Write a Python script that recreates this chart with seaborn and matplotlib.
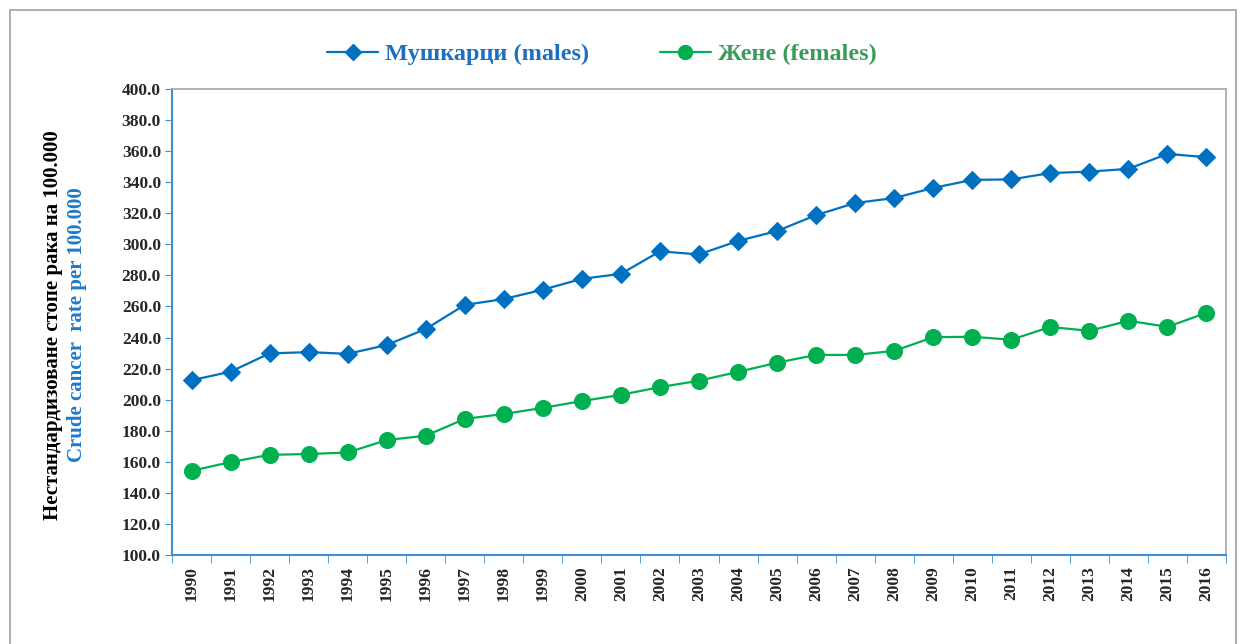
import numpy as np
import pandas as pd
import seaborn as sns
import matplotlib.pyplot as plt
from matplotlib.lines import Line2D
from matplotlib.patches import Rectangle

years = list(range(1990, 2017))
males = [212.5, 218.0, 229.8, 230.6, 229.5, 235.2, 245.5, 261.0, 264.8, 270.8,
         277.8, 281.0, 295.5, 293.5, 302.2, 308.6, 318.8, 326.6, 329.8, 336.3,
         341.5, 341.8, 345.9, 346.8, 348.6, 358.2, 356.1]
females = [154.2, 159.8, 164.5, 165.0, 166.0, 174.0, 176.8, 187.6, 190.8, 194.7,
           199.1, 203.1, 208.1, 212.2, 217.9, 223.8, 228.8, 228.8, 231.4, 240.2,
           240.5, 238.6, 246.8, 244.3, 250.8, 246.9, 255.9]
label_m = 'Мушкарци (males)'
label_f = 'Жене (females)'

blue = '#0070C0'
green = '#00B050'

sns.set_style('white')
plt.rcParams['font.family'] = ['Liberation Serif', 'DejaVu Serif']

df = pd.DataFrame({'pos': np.arange(len(years)), 'males': males, 'females': females})

fig = plt.figure(figsize=(12.46, 6.44), dpi=100)
ax = fig.add_axes([172/1246, 1-555/644, (1226-172)/1246, (555-89)/644])

sns.lineplot(x='pos', y='males', data=df, ax=ax, color=blue, marker='D',
             markersize=9.5, markeredgecolor=blue, linewidth=1.6)
sns.lineplot(x='pos', y='females', data=df, ax=ax, color=green, marker='o',
             markersize=11.5, markeredgecolor=green, linewidth=1.6)

ax.set_xlim(-0.5, len(years) - 0.5)
ax.set_ylim(100, 400)
ax.set_yticks(np.arange(100, 401, 20))
ax.set_yticklabels(['%.1f' % v for v in np.arange(100, 401, 20)],
                   fontsize=12.5, fontweight='bold')
ax.set_xticks(np.arange(len(years)))
ax.set_xticklabels(years, rotation=90, fontsize=12.5, fontweight='bold')
ax.set_xticks(np.arange(len(years) + 1) - 0.5, minor=True)
ax.tick_params(axis='x', which='major', length=0, pad=8)
ax.tick_params(axis='x', which='minor', length=6, color='#3F8FD2', direction='out', bottom=True)
ax.tick_params(axis='y', which='major', length=5, color='#3F8FD2', direction='out', left=True, pad=3)
ax.set_xlabel('')
ax.set_ylabel('')

for side in ['left', 'bottom']:
    ax.spines[side].set_color('#3F8FD2')
    ax.spines[side].set_linewidth(1.5)
for side in ['top', 'right']:
    ax.spines[side].set_color('#A6A6A6')
    ax.spines[side].set_linewidth(1.2)

# y-axis titles (two languages, two colours)
fig.text(53/1246, 1-325/644, 'Нестандардизоване стопе рака на 100.000', rotation=90,
         ha='center', va='center', fontsize=15, fontweight='bold', color='black')
fig.text(77/1246, 1-325/644, 'Crude cancer  rate per 100.000', rotation=90,
         ha='center', va='center', fontsize=15, fontweight='bold', color='#1F7BC8')

# legend at the top
handles = [Line2D([], [], color=blue, marker='D', markersize=8, linewidth=1.6),
           Line2D([], [], color=green, marker='o', markersize=10, linewidth=1.6)]
leg = fig.legend(handles, [label_m, label_f], loc='center', bbox_to_anchor=(602/1246, 1-54/644),
                 ncol=2, frameon=False, prop={'weight': 'bold', 'size': 17.5},
                 handlelength=2.1, columnspacing=2.9, handletextpad=0.3)
leg.get_texts()[0].set_color('#1F6FC0')
leg.get_texts()[1].set_color('#3A9A5B')

# outer chart frame
fig.patches.append(Rectangle((10/1246, -0.05), 1226/1246, 1.05 - 10/644, transform=fig.transFigure,
                             fill=False, edgecolor='#A0A0A0', linewidth=1.2))

fig.savefig('out.png', dpi=100, facecolor='white')
